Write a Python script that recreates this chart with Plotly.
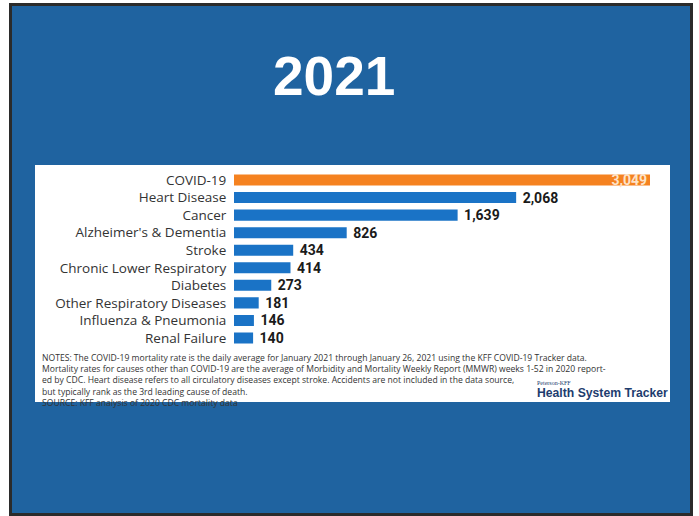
import plotly.graph_objects as go

categories = ["COVID-19", "Heart Disease", "Cancer", "Alzheimer's & Dementia", "Stroke",
              "Chronic Lower Respiratory", "Diabetes", "Other Respiratory Diseases",
              "Influenza & Pneumonia", "Renal Failure"]
values = [3049, 2068, 1639, 826, 434, 414, 273, 181, 146, 140]
title_text = "2021"
notes_lines = [
    "NOTES: The COVID-19 mortality rate is the daily average for January 2021 through January 26, 2021 using the KFF COVID-19 Tracker data.",
    "Mortality rates for causes other than COVID-19 are the average of Morbidity and Mortality Weekly Report (MMWR) weeks 1-52 in 2020 report-",
    "ed by CDC. Heart disease refers to all circulatory diseases except stroke. Accidents are not included in the data source,",
    "but typically rank as the 3rd leading cause of death.",
    "SOURCE: KFF analysis of 2020 CDC mortality data",
]

W, H = 699, 516
def px(x): return x / W
def py(y): return 1 - y / H

bar_colors = ["#f58220"] + ["#1a73c6"] * (len(values) - 1)
text_pos = ["inside"] + ["outside"] * (len(values) - 1)
text_colors = ["#fde3c8"] + ["#1a1a1a"] * (len(values) - 1)
text_tpl = ["%{x:,}"] + [" %{x:,}"] * (len(values) - 1)

fig = go.Figure(go.Bar(
    x=values, y=categories, orientation="h",
    marker=dict(color=bar_colors, line=dict(width=0)),
    width=0.63,
    texttemplate=text_tpl, textposition=text_pos, insidetextanchor="end",
    constraintext="none",
    textfont=dict(family="Roboto", size=14, color=text_colors, weight="bold"),
    cliponaxis=False,
))

shapes = [
    dict(type="rect", xref="paper", yref="paper", x0=px(9), x1=px(693), y0=py(516), y1=py(3),
         fillcolor="#2b2b2b", line=dict(width=0), layer="below"),
    dict(type="rect", xref="paper", yref="paper", x0=px(12), x1=px(690), y0=py(513), y1=py(6),
         fillcolor="#1f63a0", line=dict(width=0), layer="below"),
    dict(type="rect", xref="paper", yref="paper", x0=px(35), x1=px(670), y0=py(402), y1=py(165),
         fillcolor="#ffffff", line=dict(width=0), layer="below"),
]

annotations = [
    dict(text=f"<b>{title_text}</b>", xref="paper", yref="paper", x=px(334), y=py(76),
         xanchor="center", yanchor="middle", showarrow=False,
         font=dict(family="Liberation Sans", size=55, color="#ffffff")),
    dict(text="<br>".join(notes_lines), xref="paper", yref="paper", x=px(40), y=py(350),
         xanchor="left", yanchor="top", align="left", showarrow=False,
         font=dict(family="Open Sans", size=8.6, color="#333333")),
    dict(text="Peterson-KFF", xref="paper", yref="paper", x=px(535), y=py(383),
         xanchor="left", yanchor="middle", showarrow=False,
         font=dict(family="Liberation Serif", size=6, color="#1d3c6e")),
    dict(text="<b>Health System Tracker</b>", xref="paper", yref="paper", x=px(602), y=py(393),
         xanchor="center", yanchor="middle", showarrow=False,
         font=dict(family="Liberation Sans", size=12.2, color="#1d3c6e")),
]

fig.update_layout(
    width=W, height=H, margin=dict(l=0, r=0, t=0, b=0),
    paper_bgcolor="#ffffff", plot_bgcolor="rgba(0,0,0,0)",
    showlegend=False, shapes=shapes, annotations=annotations,
    xaxis=dict(domain=[px(234), px(650)], range=[0, 3049], visible=False, fixedrange=True),
    yaxis=dict(domain=[py(346.8), py(171.2)], autorange="reversed",
               showgrid=False, zeroline=False, showline=False,
               ticks="outside", ticklen=4, tickcolor="rgba(0,0,0,0)",
               tickfont=dict(family="Open Sans", size=13.5, color="#333333")),
)

fig.write_html("out.html")
